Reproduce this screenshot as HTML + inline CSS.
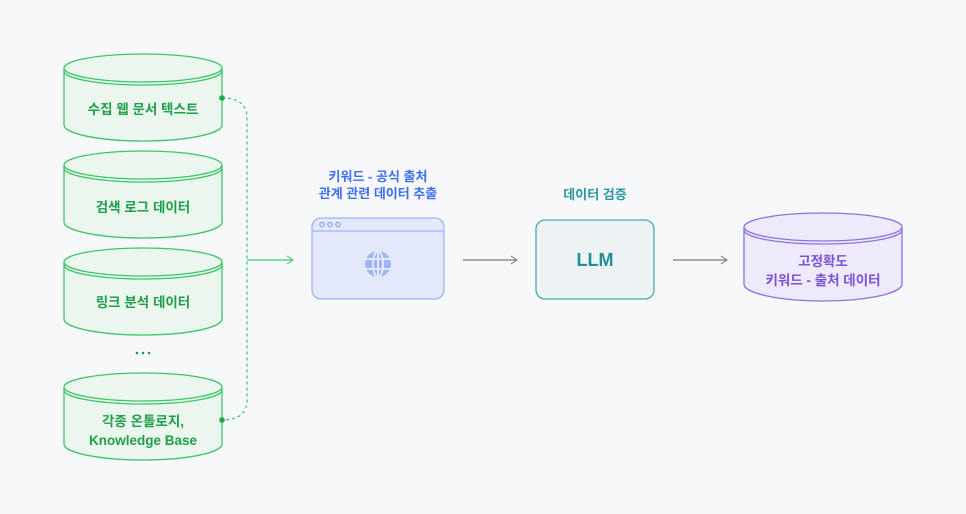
<!DOCTYPE html>
<html><head><meta charset="utf-8"><style>
html,body{margin:0;padding:0;background:#f7f8fa;}
svg{display:block}
text{font-family:"Liberation Sans","Noto Sans CJK KR",sans-serif;font-weight:700;}
</style></head><body>
<svg width="966" height="514" viewBox="0 0 966 514" xmlns="http://www.w3.org/2000/svg">
<rect width="966" height="514" fill="#f7f8fa"/>
<defs>
<marker id="ar" markerWidth="10" markerHeight="10" refX="8" refY="5" orient="auto" markerUnits="userSpaceOnUse">
<path d="M2,1 L8,5 L2,9" fill="none" stroke="#777" stroke-width="1"/></marker>
<marker id="arg" markerWidth="10" markerHeight="10" refX="8" refY="5" orient="auto" markerUnits="userSpaceOnUse">
<path d="M2,1 L8,5 L2,9" fill="none" stroke="#3cc46a" stroke-width="1"/></marker>
</defs>
<g stroke="#3cc46a" stroke-width="1.3" fill="#ebf7ee">
<path d="M64,68 L64,125 A79,16 0 0 0 222,125 L222,68"/>
<ellipse cx="143" cy="68" rx="79" ry="14"/>
<path d="M64,71 A79,14 0 0 0 222,71" fill="none"/>
<path d="M64,165 L64,222 A79,16 0 0 0 222,222 L222,165"/>
<ellipse cx="143" cy="165" rx="79" ry="14"/>
<path d="M64,168 A79,14 0 0 0 222,168" fill="none"/>
<path d="M64,262 L64,319 A79,16 0 0 0 222,319 L222,262"/>
<ellipse cx="143" cy="262" rx="79" ry="14"/>
<path d="M64,265 A79,14 0 0 0 222,265" fill="none"/>
<path d="M64,387 L64,444 A79,16 0 0 0 222,444 L222,387"/>
<ellipse cx="143" cy="387" rx="79" ry="14"/>
<path d="M64,390 A79,14 0 0 0 222,390" fill="none"/>
</g>
<g fill="#1f9e4a" font-size="13.5" text-anchor="middle">
<text x="143" y="114">수집 웹 문서 텍스트</text>
<text x="143" y="212">검색 로그 데이터</text>
<text x="143" y="307">링크 분석 데이터</text>
<text x="143" y="426">각종 온톨로지,</text>
<text x="143" y="445" font-weight="600">Knowledge Base</text>
</g>
<g fill="#1f9e4a"><circle cx="137" cy="353" r="1.3"/><circle cx="143" cy="353" r="1.3"/><circle cx="149" cy="353" r="1.3"/></g>
<path d="M222,98 Q247,98 247,118 L247,400 Q247,420 222,420" fill="none" stroke="#3cc46a" stroke-width="1.2" stroke-dasharray="3,3"/>
<circle cx="222" cy="98" r="2.8" fill="#1fa84e"/>
<circle cx="222" cy="420" r="2.8" fill="#1fa84e"/>
<line x1="247" y1="260" x2="293" y2="260" stroke="#3cc46a" stroke-width="1.2" marker-end="url(#arg)"/>
<text x="378" y="181" fill="#3d6ff0" font-size="13" text-anchor="middle">키워드 - 공식 출처</text>
<text x="378" y="198" fill="#3d6ff0" font-size="13" text-anchor="middle">관계 관련 데이터 추출</text>
<rect x="312" y="218" width="132" height="81" rx="9" fill="#e3e9fb" stroke="#9fb4f5" stroke-width="1.3"/>
<line x1="312" y1="231" x2="444" y2="231" stroke="#9fb4f5" stroke-width="1.3"/>
<g fill="none" stroke="#8aa3f2" stroke-width="1.2">
<circle cx="322" cy="224.5" r="2.2"/><circle cx="330" cy="224.5" r="2.2"/><circle cx="338" cy="224.5" r="2.2"/>
</g>
<circle cx="378" cy="264" r="13" fill="#9fb4f5"/>
<g stroke="#e3e9fb" stroke-width="2" fill="none">
<ellipse cx="378" cy="264" rx="5" ry="13"/>
<line x1="365" y1="259" x2="391" y2="259"/><line x1="365" y1="269" x2="391" y2="269"/>
<line x1="378" y1="251" x2="378" y2="277"/>
</g>
<line x1="463" y1="260" x2="517" y2="260" stroke="#777" stroke-width="1.2" marker-end="url(#ar)"/>
<text x="595" y="199" fill="#2a96a0" font-size="13" text-anchor="middle">데이터 검증</text>
<rect x="536" y="220" width="118" height="79" rx="9" fill="#edf3f4" stroke="#4aa9b0" stroke-width="1.3"/>
<text x="595" y="266" fill="#1e8f99" font-size="18" text-anchor="middle">LLM</text>
<line x1="673" y1="260" x2="727" y2="260" stroke="#777" stroke-width="1.2" marker-end="url(#ar)"/>
<g stroke="#8c72e0" stroke-width="1.3" fill="#efeafb">
<path d="M744,227 L744,284 A79,17 0 0 0 902,284 L902,227"/>
<ellipse cx="823" cy="227" rx="79" ry="14"/>
<path d="M744,230 A79,14 0 0 0 902,230" fill="none"/>
</g>
<text x="823" y="266" fill="#7a52d8" font-size="13.5" text-anchor="middle">고정확도</text>
<text x="823" y="285" fill="#7a52d8" font-size="13.5" text-anchor="middle">키워드 - 출처 데이터</text>
</svg>
</body></html>
